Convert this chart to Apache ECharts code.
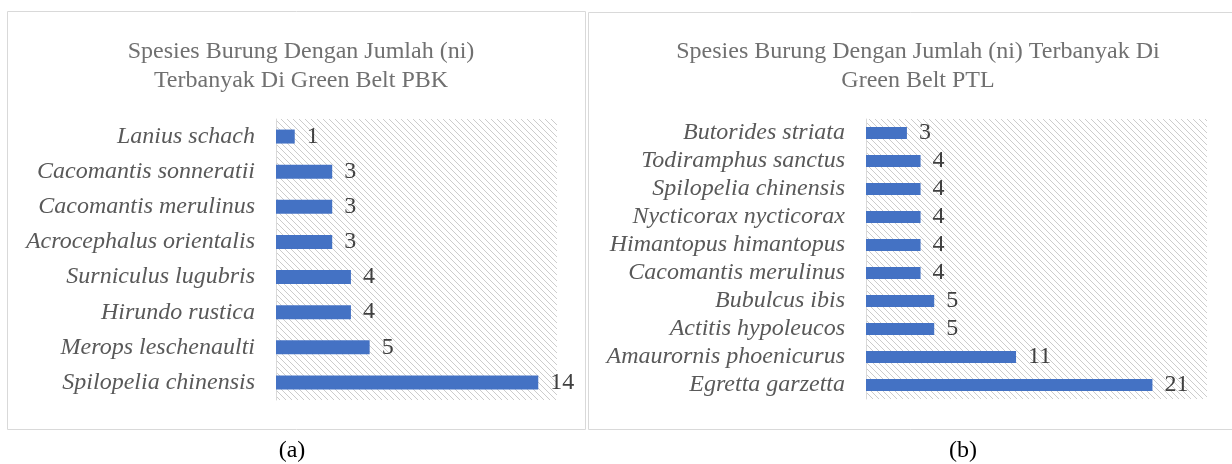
<!DOCTYPE html>
<html lang="en">
<head>
    <meta charset="UTF-8">
    <title>Spesies Burung</title>
    <script src="https://cdnjs.cloudflare.com/ajax/libs/echarts/6.0.0/echarts.min.js"></script>
    <style>
        body { margin: 0; background: #fff; }
        #main { width: 1232px; height: 464px; }
    </style>
</head>
<body>
    <div id="main"></div>

    <script>
        // chart (a) - Green Belt PBK, bottom to top
        const speciesA = ["Spilopelia chinensis", "Merops leschenaulti", "Hirundo rustica", "Surniculus lugubris",
            "Acrocephalus orientalis", "Cacomantis merulinus", "Cacomantis sonneratii", "Lanius schach"];
        const countA = [14, 5, 4, 4, 3, 3, 3, 1];

        // chart (b) - Green Belt PTL, bottom to top
        const speciesB = ["Egretta garzetta", "Amaurornis phoenicurus", "Actitis hypoleucos", "Bubulcus ibis",
            "Cacomantis merulinus", "Himantopus himantopus", "Nycticorax nycticorax", "Spilopelia chinensis",
            "Todiramphus sanctus", "Butorides striata"];
        const countB = [21, 11, 5, 5, 4, 4, 4, 4, 4, 3];

        const titleA = "Spesies Burung Dengan Jumlah (ni)\nTerbanyak Di Green Belt PBK";
        const titleB = "Spesies Burung Dengan Jumlah (ni) Terbanyak Di\nGreen Belt PTL";

        const serif = "'Liberation Serif', 'Times New Roman', serif";

        // diagonal hatch for the plot area
        function hatch() {
            const c = document.createElement("canvas");
            c.width = 6; c.height = 6;
            const g = c.getContext("2d");
            g.fillStyle = "#fff";
            g.fillRect(0, 0, 6, 6);
            g.strokeStyle = "#cccccc";
            g.lineWidth = 1;
            g.beginPath();
            g.moveTo(-1, -1); g.lineTo(7, 7);
            g.moveTo(-1, 5); g.lineTo(1, 7);
            g.moveTo(5, -1); g.lineTo(7, 1);
            g.stroke();
            return { image: c, repeat: "repeat" };
        }
        const pattern = hatch();

        function yAxis(idx, cats) {
            return {
                type: "category", gridIndex: idx, data: cats,
                axisTick: { show: false },
                axisLine: { lineStyle: { color: "#d9d9d9", width: 1 } },
                axisLabel: { interval: 0, fontFamily: serif, fontStyle: "italic", fontSize: 24, color: "#595959", margin: 21 }
            };
        }

        function xAxis(idx, max) {
            return {
                type: "value", gridIndex: idx, min: 0, max: max,
                show: false, splitLine: { show: false }
            };
        }

        function barSeries(idx, vals, w) {
            return {
                type: "bar", xAxisIndex: idx, yAxisIndex: idx, data: vals, barWidth: w,
                itemStyle: { color: "#4472c4" },
                label: { show: true, position: "right", distance: 12, fontFamily: serif, fontSize: 24, color: "#404040" }
            };
        }

        const chart = echarts.init(document.getElementById("main"));

        chart.setOption({
            animation: false,
            title: [
                { text: titleA, left: 296, top: 32, textAlign: "center",
                  textStyle: { fontFamily: serif, fontSize: 24, fontWeight: "normal", color: "#707070", lineHeight: 29 } },
                { text: titleB, left: 913, top: 32, textAlign: "center",
                  textStyle: { fontFamily: serif, fontSize: 24, fontWeight: "normal", color: "#707070", lineHeight: 29 } },
                { text: "(a)", left: 287, top: 434, textAlign: "center",
                  textStyle: { fontFamily: serif, fontSize: 24, fontWeight: "normal", color: "#000" } },
                { text: "(b)", left: 958, top: 434, textAlign: "center",
                  textStyle: { fontFamily: serif, fontSize: 24, fontWeight: "normal", color: "#000" } }
            ],
            graphic: [
                { type: "rect", shape: { x: 7.5, y: 11.5, width: 578, height: 418 },
                  style: { fill: null, stroke: "#d9d9d9", lineWidth: 1 }, z: -1 },
                { type: "rect", shape: { x: 588.5, y: 12.5, width: 660, height: 417 },
                  style: { fill: null, stroke: "#d9d9d9", lineWidth: 1 }, z: -1 }
            ],
            grid: [
                { left: 276, top: 119, width: 281, height: 281, show: true, borderWidth: 0, backgroundColor: pattern },
                { left: 866, top: 119, width: 341, height: 280, show: true, borderWidth: 0, backgroundColor: pattern }
            ],
            xAxis: [xAxis(0, 15), xAxis(1, 25)],
            yAxis: [yAxis(0, speciesA), yAxis(1, speciesB)],
            series: [barSeries(0, countA, 14), barSeries(1, countB, 12)]
        });
    </script>
</body>
</html>
